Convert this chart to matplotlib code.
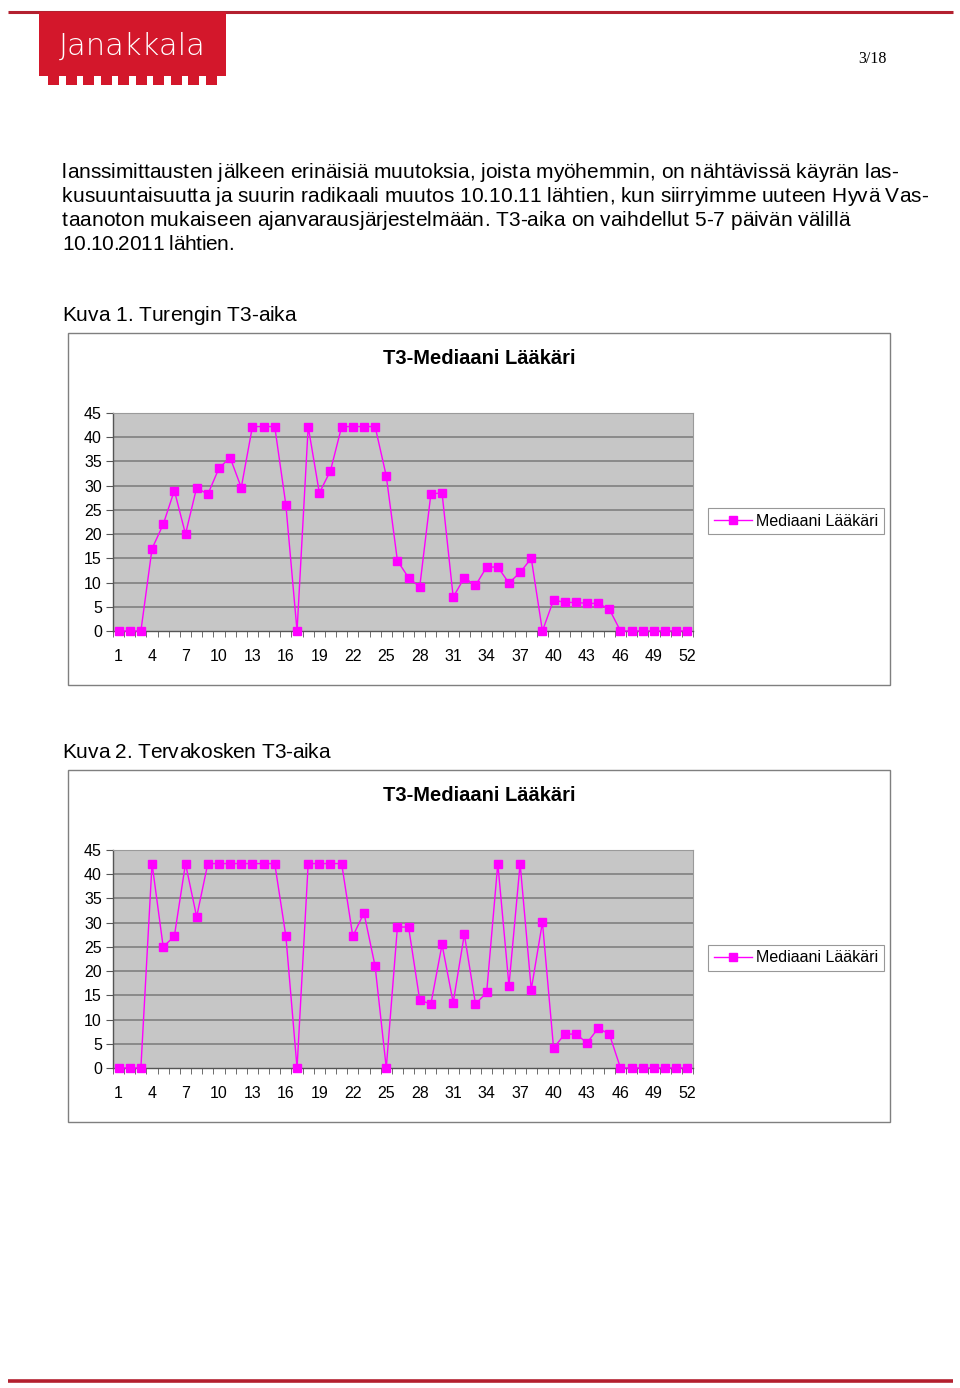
import matplotlib
matplotlib.use('Agg')
import matplotlib.pyplot as plt
import matplotlib.patches as patches
from matplotlib.lines import Line2D

W, H = 960, 1388

# --- data ---
weeks = list(range(1, 53))
turenki = [0, 0, 0, 17, 22, 29, 20, 29.6, 28.2, 33.6, 35.8, 29.6, 42.2, 42.2, 42.2, 26,
           0, 42.2, 28.5, 33.1, 42.2, 42.2, 42.2, 42.2, 32, 14.5, 11, 9.1, 28.3, 28.5,
           7, 11, 9.4, 13.2, 13.2, 9.9, 12.1, 15, 0, 6.4, 5.9, 5.9, 5.7, 5.7, 4.5,
           0, 0, 0, 0, 0, 0, 0]
tervakoski = [0, 0, 0, 42.2, 25, 27.2, 42.2, 31.2, 42.2, 42.2, 42.2, 42.2, 42.2, 42.2, 42.2,
              27.2, 0, 42.2, 42.2, 42.2, 42.2, 27.2, 32, 21, 0, 29.1, 29.1, 14, 13.2, 25.5,
              13.5, 27.6, 13.2, 15.6, 42.2, 17, 42.2, 16.2, 30.1, 4.1, 7, 7, 5.2, 8.2, 7,
              0, 0, 0, 0, 0, 0, 0]
yticks = list(range(0, 50, 5))
xlabels = list(range(1, 53, 3))

body_lines = [
    "lanssimittausten jälkeen erinäisiä muutoksia, joista myöhemmin, on nähtävissä käyrän las-",
    "kusuuntaisuutta ja suurin radikaali muutos 10.10.11 lähtien, kun siirryimme uuteen Hyvä Vas-",
    "taanoton mukaiseen ajanvarausjärjestelmään. T3-aika on vaihdellut 5-7 päivän välillä",
    "10.10.2011 lähtien.",
]
body_ends = [898, 928, 850, 234]   # right edge of each line in the page (px)

RED = '#D3172B'
LINE_RED = '#B3202F'
MAGENTA = '#FF00FF'
TXT = 15

plt.rcParams['font.family'] = ['Liberation Sans', 'DejaVu Sans']

fig = plt.figure(figsize=(W / 100, H / 100), dpi=100, facecolor='white')
bg = fig.add_axes([0, 0, 1, 1])
bg.set_xlim(0, W)
bg.set_ylim(H, 0)
bg.axis('off')
renderer = fig.canvas.get_renderer()


def px_rect(x0, y0, x1, y1):
    return [x0 / W, 1 - y1 / H, (x1 - x0) / W, (y1 - y0) / H]


def tracked_text(x0, y, s, x_end, size):
    # place characters one by one so the line ends at x_end (pdf-like spacing)
    probe = bg.text(0, 0, '|', fontsize=size)
    bar = probe.get_window_extent(renderer).width
    adv = {}
    for ch in set(s):
        probe.set_text(ch + '|')
        adv[ch] = probe.get_window_extent(renderer).width - bar
    probe.remove()
    full = sum(adv[ch] for ch in s[:-1])
    probe_last = bg.text(0, 0, s[-1], fontsize=size)
    full += probe_last.get_window_extent(renderer).width
    probe_last.remove()
    extra = (x_end - x0 - full) / max(len(s) - 1, 1)
    x = x0
    for ch in s:
        if ch != ' ':
            bg.text(x, y, ch, fontsize=size, ha='left', va='center')
        x += adv[ch] + extra


# header / footer lines
bg.plot([8, 953], [12, 12], color=LINE_RED, lw=2.2, solid_capstyle='butt')
bg.plot([8, 953], [1381, 1381], color=LINE_RED, lw=2.6, solid_capstyle='butt')

# logo
bg.add_patch(patches.Rectangle((39, 12), 187, 64, color=RED, lw=0, zorder=2))
bw, gap = 11, 6.5
for k in range(10):
    bg.add_patch(patches.Rectangle((48 + k * (bw + gap), 75), bw, 10, color=RED, lw=0, zorder=2))
bg.text(132, 46, "Janakkala", color='white', fontsize=22, ha='center', va='center',
        family='DejaVu Sans', fontweight='light', zorder=3)

bg.text(872, 59, "3/18", fontsize=11.5, ha='center', va='center', family='Liberation Serif')

# body text
for i, line in enumerate(body_lines):
    tracked_text(62, 172 + i * 24, line, body_ends[i], TXT)


def draw_chart(top, caption, caption_end, values):
    off = top - 333
    tracked_text(62, 315 + off, caption, caption_end, TXT)
    bg.add_patch(patches.Rectangle((68, 333 + off), 822, 352, fill=False,
                                   edgecolor='#7F7F7F', lw=1))
    bg.text(479, 358 + off, "T3-Mediaani Lääkäri", fontsize=14.5, fontweight='bold',
            ha='center', va='center')

    ax = fig.add_axes(px_rect(113, 413 + off, 693, 631 + off))
    ax.set_facecolor('#C6C6C6')
    ax.set_xlim(0.5, 52.5)
    ax.set_ylim(0, 45)
    for y in yticks[1:]:
        ax.axhline(y, color='#7A7A7A', lw=1.1, zorder=1)
    ax.plot(weeks, values, color=MAGENTA, lw=1.0, marker='s', markersize=6,
            markerfacecolor=MAGENTA, markeredgecolor=MAGENTA, zorder=3, clip_on=False,
            label="Mediaani Lääkäri")

    ax.set_yticks(yticks)
    ax.set_yticklabels([str(v) for v in yticks], fontsize=11.5)
    ax.set_xticks(xlabels)
    ax.set_xticklabels([str(v) for v in xlabels], fontsize=11.5)
    ax.set_xticks([k + 0.5 for k in range(0, 53)], minor=True)
    ax.tick_params(axis='x', which='major', length=0, pad=13)
    ax.tick_params(axis='x', which='minor', length=4, direction='out', color='#555555')
    ax.tick_params(axis='y', length=5, direction='out', color='#555555', pad=3)
    for s in ['left', 'bottom']:
        ax.spines[s].set_color('#555555')
        ax.spines[s].set_linewidth(1.0)
    for s in ['top', 'right']:
        ax.spines[s].set_color('#9A9A9A')
        ax.spines[s].set_linewidth(0.8)

    leg = ax.legend(handles=[Line2D([0], [0], color=MAGENTA, lw=1.0, marker='s', markersize=6,
                                    label="Mediaani Lääkäri")],
                    loc='center left', bbox_to_anchor=(708 / W, 1 - (521 + off) / H),
                    bbox_transform=fig.transFigure, fontsize=11.5, frameon=True,
                    fancybox=False, edgecolor='#7F7F7F', borderpad=0.35,
                    handlelength=2.4, handletextpad=0.25, borderaxespad=0)
    leg.get_frame().set_linewidth(0.8)


draw_chart(333, "Kuva 1. Turengin T3-aika", 296, turenki)
draw_chart(770, "Kuva 2. Tervakosken T3-aika", 330, tervakoski)

fig.savefig('out.png', dpi=100, facecolor='white')
